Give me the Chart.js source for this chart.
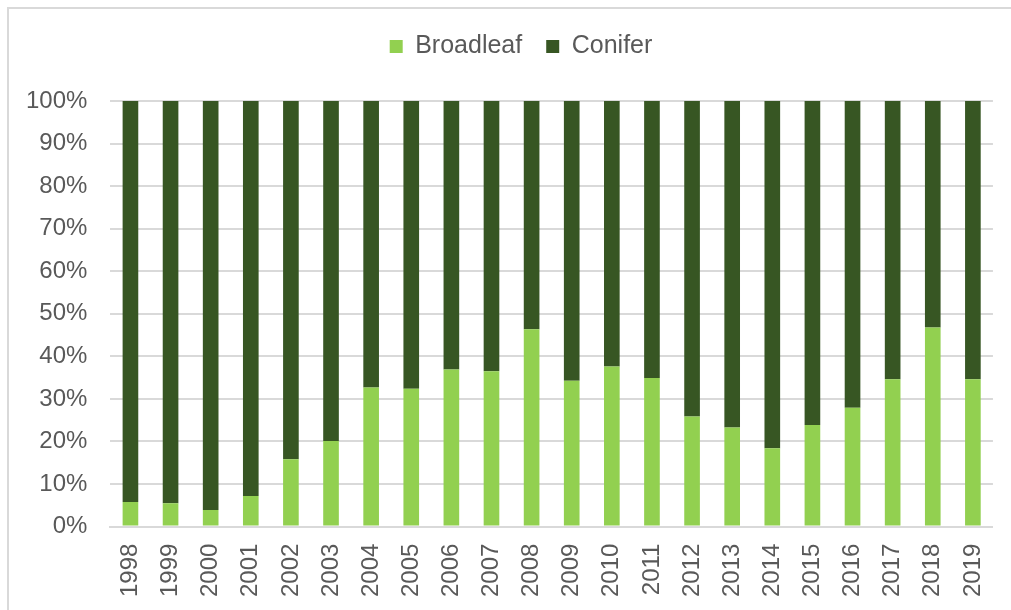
<!DOCTYPE html>
<html lang="en">
<head>
    <meta charset="UTF-8">
    <title>Broadleaf vs Conifer</title>
    <script src="https://cdn.jsdelivr.net/npm/chart.js"></script>
    <style>
        html, body {
            margin: 0;
            padding: 0;
            background: white;
            overflow: hidden;
        }
        .container {
            position: absolute;
            left: 7px;
            top: 7px;
            width: 1004px;
            height: 603px;
            border-top: 2px solid #d9d9d9;
            border-left: 2px solid #d9d9d9;
            box-sizing: border-box;
        }
    </style>
</head>
<body>
    <div class="container">
        <canvas id="chart"></canvas>
    </div>

    <script>
        const years = ['1998', '1999', '2000', '2001', '2002', '2003', '2004', '2005', '2006', '2007', '2008',
                       '2009', '2010', '2011', '2012', '2013', '2014', '2015', '2016', '2017', '2018', '2019'];
        const broadleaf = [5.8, 5.5, 3.9, 7.2, 15.8, 20.1, 32.7, 32.4, 36.9, 36.5, 46.4,
                           34.3, 37.6, 34.9, 25.9, 23.3, 18.4, 23.9, 27.9, 34.6, 46.8, 34.6];
        const conifer = [94.2, 94.5, 96.1, 92.8, 84.2, 79.9, 67.3, 67.6, 63.1, 63.5, 53.6,
                         65.7, 62.4, 65.1, 74.1, 76.7, 81.6, 76.1, 72.1, 65.4, 53.2, 65.4];
        const yTicks = [0, 10, 20, 30, 40, 50, 60, 70, 80, 90, 100];

        const textColor = '#595959';
        const font = { family: "'Liberation Sans', Arial, sans-serif", size: 24 };

        // extra space under the legend, and nudge it a bit to the right
        const legendMargin = {
            id: 'legendMargin',
            beforeInit(chart) {
                const origFit = chart.legend.fit;
                chart.legend.fit = function () {
                    origFit.bind(chart.legend)();
                    this.height += 32;
                };
            },
            afterLayout(chart) {
                chart.legend.left += 21;
                chart.legend.right += 21;
            }
        };

        new Chart(document.getElementById('chart'), {
            type: 'bar',
            data: {
                labels: years,
                datasets: [
                    { label: 'Broadleaf', data: broadleaf, backgroundColor: '#92d050' },
                    { label: 'Conifer', data: conifer, backgroundColor: '#375623' }
                ]
            },
            options: {
                responsive: true,
                maintainAspectRatio: false,
                animation: false,
                datasets: { bar: { categoryPercentage: 1, barPercentage: 0.39 } },
                layout: { padding: { left: -6, right: 14, top: 1, bottom: 4 } },
                plugins: {
                    legend: {
                        position: 'top',
                        labels: {
                            color: textColor,
                            font: { family: font.family, size: 25 },
                            boxWidth: 13,
                            boxHeight: 13,
                            padding: 24
                        }
                    },
                    tooltip: { enabled: false }
                },
                scales: {
                    x: {
                        stacked: true,
                        grid: { display: false },
                        border: { color: '#d9d9d9', width: 2 },
                        ticks: {
                            color: textColor,
                            font: font,
                            minRotation: 90,
                            maxRotation: 90,
                            padding: 9
                        }
                    },
                    y: {
                        stacked: true,
                        min: 0,
                        max: 100,
                        afterBuildTicks: axis => { axis.ticks = yTicks.map(v => ({ value: v })); },
                        grid: { color: '#d9d9d9', lineWidth: 2, drawTicks: false },
                        border: { display: false },
                        ticks: {
                            color: textColor,
                            font: font,
                            padding: 23,
                            callback: v => v + '%'
                        }
                    }
                }
            },
            plugins: [legendMargin]
        });
    </script>
</body>
</html>
